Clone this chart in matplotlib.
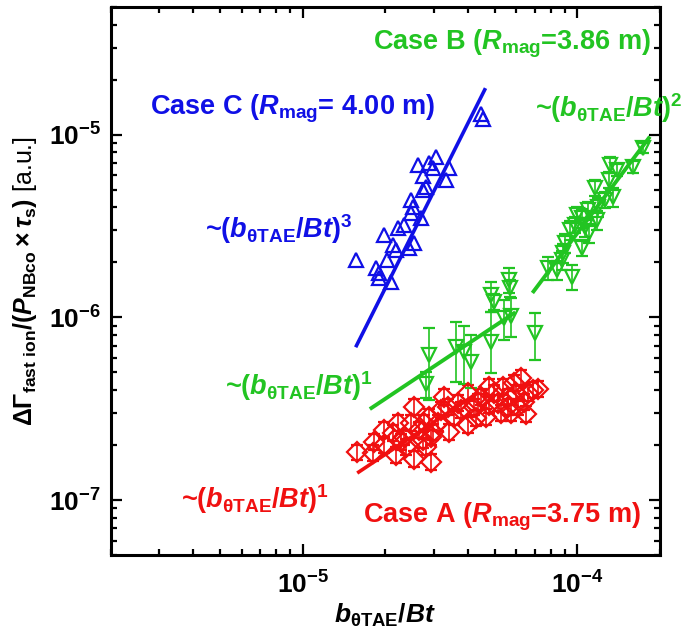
import matplotlib
matplotlib.use("Agg")
import matplotlib.pyplot as plt
import numpy as np
from matplotlib.ticker import LogLocator, NullFormatter, FixedLocator, FixedFormatter

plt.rcParams["font.family"] = "Liberation Sans"
plt.rcParams["font.weight"] = "bold"
plt.rcParams["mathtext.fontset"] = "custom"
plt.rcParams["mathtext.rm"] = "Liberation Sans:bold"
plt.rcParams["mathtext.it"] = "Liberation Sans:bold:italic"
plt.rcParams["mathtext.bf"] = "Liberation Sans:bold"

BLUE = "#1010e6"
GREEN = "#22c422"
RED = "#f01010"

# Case C (R_mag = 4.00 m), up triangles
case_c_x = [4.45e-5, 4.53e-5, 2.63e-5, 2.88e-5, 3.06e-5, 2.98e-5, 3.41e-5, 3.32e-5,
            2.74e-5, 2.81e-5, 2.74e-5, 2.48e-5, 2.53e-5, 2.48e-5, 2.70e-5, 2.34e-5,
            2.23e-5, 1.97e-5, 2.14e-5, 2.55e-5, 2.44e-5, 2.19e-5, 2.02e-5, 1.57e-5,
            1.85e-5, 1.89e-5, 1.89e-5, 2.10e-5]
case_c_y = [1.30e-5, 1.22e-5, 6.85e-6, 7.03e-6, 7.57e-6, 6.60e-6, 6.60e-6, 5.67e-6,
            5.96e-6, 5.19e-6, 5.00e-6, 4.40e-6, 4.03e-6, 3.74e-6, 3.51e-6, 3.21e-6,
            3.09e-6, 2.83e-6, 2.49e-6, 2.56e-6, 2.40e-6, 2.34e-6, 2.07e-6, 2.07e-6,
            1.87e-6, 1.75e-6, 1.65e-6, 1.56e-6]

# Case B, high-amplitude group (~ b^2), down triangles
case_b2_x = [1.73e-4, 1.60e-4, 1.32e-4, 1.40e-4, 1.30e-4, 1.16e-4, 1.35e-4, 1.26e-4,
             1.19e-4, 1.09e-4, 1.00e-4, 1.04e-4, 1.18e-4, 9.84e-5, 1.07e-4, 1.10e-4,
             9.43e-5, 9.05e-5, 1.04e-4, 8.90e-5, 8.82e-5, 7.79e-5, 8.46e-5, 9.59e-5]
case_b2_y = [8.49e-6, 6.68e-6, 6.85e-6, 6.43e-6, 5.67e-6, 5.13e-6, 4.57e-6, 4.40e-6,
             4.03e-6, 3.88e-6, 3.65e-6, 3.51e-6, 3.42e-6, 3.21e-6, 3.13e-6, 2.90e-6,
             3.02e-6, 2.56e-6, 2.40e-6, 2.26e-6, 2.07e-6, 1.87e-6, 1.82e-6, 1.67e-6]
case_b2_err = [0.06, 0.08, 0.10, 0.08, 0.10, 0.10, 0.12, 0.10,
               0.12, 0.10, 0.10, 0.12, 0.12, 0.10, 0.12, 0.12,
               0.12, 0.12, 0.10, 0.12, 0.12, 0.14, 0.12, 0.16]

# Case B, low-amplitude group (~ b^1), down triangles with large bars
case_b1_x = [2.81e-5, 2.88e-5, 3.61e-5, 3.86e-5, 4.10e-5, 4.84e-5, 4.84e-5, 4.96e-5,
             5.39e-5, 5.72e-5, 5.62e-5, 5.67e-5, 7.04e-5]
case_b1_y = [4.32e-7, 6.23e-7, 6.89e-7, 6.47e-7, 5.70e-7, 7.34e-7, 1.33e-6, 1.22e-6,
             9.94e-7, 1.02e-6, 1.61e-6, 1.45e-6, 8.22e-7]
case_b1_lo = [3.60e-7, 3.53e-7, 4.43e-7, 4.32e-7, 4.11e-7, 4.97e-7, 1.07e-6, 1.10e-6,
              7.53e-7, 7.80e-7, 1.36e-6, 1.30e-6, 5.85e-7]
case_b1_hi = [5.00e-7, 8.76e-7, 9.45e-7, 8.98e-7, 8.02e-7, 1.07e-6, 1.57e-6, 1.35e-6,
              1.25e-6, 1.28e-6, 1.87e-6, 1.60e-6, 1.06e-6]

# Case A (R_mag = 3.75 m), diamonds
case_a_x = [1.58e-5, 1.81e-5, 1.82e-5, 1.98e-5, 2.19e-5, 2.14e-5, 2.23e-5, 2.55e-5,
            2.48e-5, 2.55e-5, 2.93e-5, 2.74e-5, 2.65e-5, 2.88e-5, 2.98e-5, 3.27e-5,
            3.41e-5, 3.19e-5, 3.67e-5, 4.00e-5, 4.00e-5, 4.20e-5, 4.45e-5, 4.76e-5,
            4.76e-5, 5.13e-5, 5.35e-5, 5.58e-5, 5.72e-5, 5.96e-5, 6.22e-5, 6.37e-5,
            6.87e-5, 5.86e-5, 5.26e-5, 4.64e-5, 4.27e-5, 3.38e-5, 3.11e-5, 2.77e-5,
            2.34e-5, 1.98e-5, 2.38e-5, 2.81e-5, 2.93e-5, 3.55e-5, 3.77e-5, 4.34e-5,
            4.96e-5, 6.06e-5, 6.59e-5, 5.58e-5, 7.22e-5, 6.48e-5, 2.28e-5]
case_a_y = [1.83e-7, 1.81e-7, 2.08e-7, 2.00e-7, 1.77e-7, 2.33e-7, 2.64e-7, 3.24e-7,
            2.64e-7, 1.68e-7, 1.62e-7, 2.13e-7, 2.42e-7, 2.85e-7, 2.36e-7, 3.67e-7,
            2.36e-7, 3.11e-7, 3.40e-7, 3.86e-7, 2.58e-7, 3.24e-7, 3.67e-7, 4.16e-7,
            3.32e-7, 3.40e-7, 4.16e-7, 3.67e-7, 3.00e-7, 3.86e-7, 4.66e-7, 3.44e-7,
            4.01e-7, 4.38e-7, 3.00e-7, 2.85e-7, 2.81e-7, 3.24e-7, 2.64e-7, 2.64e-7,
            2.21e-7, 2.42e-7, 1.95e-7, 1.95e-7, 2.21e-7, 2.85e-7, 3.11e-7, 3.44e-7,
            3.86e-7, 3.24e-7, 3.86e-7, 3.24e-7, 4.06e-7, 2.96e-7, 2.10e-7]
case_a_err = 0.10

# power-law fit lines: (x start, x end, anchor x, anchor y, exponent)
fit_c = (1.57e-5, 4.60e-5, 2.687e-5, 3.51e-6, 3)
fit_b2 = (6.93e-5, 1.82e-4, 1.124e-4, 3.65e-6, 2)
fit_b1 = (1.78e-5, 5.87e-5, 1.78e-5, 3.19e-7, 1)
fit_a = (1.60e-5, 4.20e-5, 1.597e-5, 1.42e-7, 1)


def fit_line(params):
    x0, x1, xa, ya, n = params
    xs = np.array([x0, x1])
    return xs, ya * (xs / xa) ** n


fig = plt.figure(figsize=(6.85, 6.42), dpi=100)
ax = fig.add_axes([0.1616, 0.1355, 0.8019, 0.8536])
ax.set_xscale("log")
ax.set_yscale("log")

mk = dict(mfc="none", mew=1.6, linestyle="none")

# Case A
ya = np.array(case_a_y)
ax.errorbar(case_a_x, ya, yerr=ya * case_a_err, fmt="D", ms=10, color=RED,
            elinewidth=1.2, capsize=4, capthick=1.2, **mk)
xs, ys = fit_line(fit_a)
ax.plot(xs, ys, color=RED, lw=2.6)

# Case B
yb1 = np.array(case_b1_y)
ax.errorbar(case_b1_x, yb1, yerr=[yb1 - np.array(case_b1_lo), np.array(case_b1_hi) - yb1],
            fmt="v", ms=10.5, color=GREEN, elinewidth=1.2, capsize=4, capthick=1.2, **mk)
yb2 = np.array(case_b2_y)
ax.errorbar(case_b2_x, yb2, yerr=yb2 * np.array(case_b2_err), fmt="v", ms=10.5,
            color=GREEN, elinewidth=1.2, capsize=4, capthick=1.2, **mk)
xs, ys = fit_line(fit_b1)
ax.plot(xs, ys, color=GREEN, lw=2.8)
xs, ys = fit_line(fit_b2)
ax.plot(xs, ys, color=GREEN, lw=2.8)

# Case C
ax.plot(case_c_x, case_c_y, "^", ms=10.5, color=BLUE, **mk)
xs, ys = fit_line(fit_c)
ax.plot(xs, ys, color=BLUE, lw=2.6)

ax.set_xlim(2e-6, 2e-4)
ax.set_ylim(5e-8, 5e-5)

ax.xaxis.set_major_locator(FixedLocator([1e-5, 1e-4]))
ax.xaxis.set_major_formatter(FixedFormatter([r"10$^{-5}$", r"10$^{-4}$"]))
ax.yaxis.set_major_locator(FixedLocator([1e-7, 1e-6, 1e-5]))
ax.yaxis.set_major_formatter(FixedFormatter([r"10$^{-7}$", r"10$^{-6}$", r"10$^{-5}$"]))
for a in (ax.xaxis, ax.yaxis):
    a.set_minor_locator(LogLocator(base=10, subs=np.arange(2, 10), numticks=20))
    a.set_minor_formatter(NullFormatter())

ax.tick_params(which="both", direction="in", top=True, right=True, width=1.6,
               labelsize=19)
ax.tick_params(which="major", length=8)
ax.tick_params(which="minor", length=4)
ax.tick_params(axis="x", pad=12)
ax.tick_params(axis="y", pad=7)
for s in ax.spines.values():
    s.set_linewidth(2.2)

ax.set_xlabel(r"$b_{\mathrm{\theta TAE}}/Bt$", fontsize=19, labelpad=2)
ax.set_ylabel(r"$\Delta\mathit{\Gamma}_{\mathrm{fast\ ion}}/(P_{\mathrm{NBco}}\times\tau_{\mathrm{s}})$ [a.u.]",
              fontsize=18)
ax.yaxis.set_label_coords(-0.13, 0.5)

fs = 19.5
ax.text(0.478, 0.923, r"Case B ($R_{\mathrm{mag}}$=3.86 m)", color=GREEN, fontsize=fs,
        transform=ax.transAxes, va="baseline")
ax.text(0.0716, 0.803, r"Case C ($R_{\mathrm{mag}}$= 4.00 m)", color=BLUE, fontsize=fs,
        transform=ax.transAxes, va="baseline")
ax.text(0.772, 0.799, r"~($b_{\mathrm{\theta TAE}}$/$Bt$)$^{2}$", color=GREEN, fontsize=fs,
        transform=ax.transAxes, va="baseline")
ax.text(0.172, 0.578, r"~($b_{\mathrm{\theta TAE}}$/$Bt$)$^{3}$", color=BLUE, fontsize=fs,
        transform=ax.transAxes, va="baseline")
ax.text(0.208, 0.292, r"~($b_{\mathrm{\theta TAE}}$/$Bt$)$^{1}$", color=GREEN, fontsize=fs,
        transform=ax.transAxes, va="baseline")
ax.text(0.128, 0.085, r"~($b_{\mathrm{\theta TAE}}$/$Bt$)$^{1}$", color=RED, fontsize=fs,
        transform=ax.transAxes, va="baseline")
ax.text(0.459, 0.060, r"Case A ($R_{\mathrm{mag}}$=3.75 m)", color=RED, fontsize=fs,
        transform=ax.transAxes, va="baseline")

fig.savefig("out.png", dpi=100)
